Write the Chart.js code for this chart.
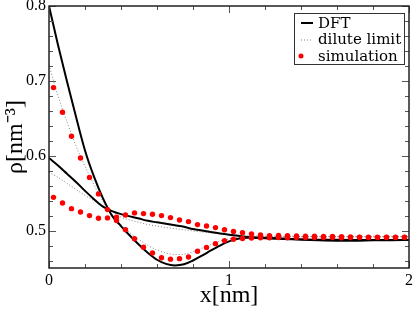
<!DOCTYPE html>
<html><head><meta charset="utf-8">
<script src="https://cdn.jsdelivr.net/npm/chart.js@4/dist/chart.umd.min.js"></script>
<style>html,body{margin:0;padding:0;background:#fff}canvas{display:block}</style>
</head><body>
<canvas id="c" width="415" height="309"></canvas>
<script>
// ---- data ----
const curveX = [0, 0.05, 0.1, 0.15, 0.2, 0.25, 0.3, 0.35, 0.4, 0.45, 0.5, 0.55, 0.6, 0.65, 0.7, 0.75, 0.8, 0.85, 0.9, 0.95, 1.0, 1.05, 1.1, 1.2, 1.3, 1.4, 1.5, 1.6, 1.7, 1.8, 1.9, 2.0];
const dftHigh = [0.8, 0.748, 0.699, 0.652, 0.607, 0.572, 0.543, 0.52, 0.506, 0.493, 0.481, 0.47, 0.461, 0.4555, 0.4535, 0.455, 0.46, 0.4665, 0.4735, 0.48, 0.4855, 0.489, 0.4905, 0.4905, 0.4895, 0.488, 0.487, 0.4865, 0.4865, 0.487, 0.4872, 0.4875];
const dftLow = [0.597, 0.587, 0.576, 0.565, 0.553, 0.542, 0.532, 0.526, 0.522, 0.519, 0.516, 0.513, 0.511, 0.509, 0.507, 0.505, 0.502, 0.5, 0.498, 0.496, 0.4945, 0.493, 0.4915, 0.4898, 0.4888, 0.4882, 0.4878, 0.4876, 0.4875, 0.4875, 0.4874, 0.4874];
const diluteHigh = [0.721, 0.68, 0.645, 0.613, 0.586, 0.561, 0.539, 0.52, 0.508, 0.497, 0.488, 0.48, 0.474, 0.47, 0.468, 0.4685, 0.4715, 0.4765, 0.4815, 0.486, 0.489, 0.4905, 0.4912, 0.4918, 0.492, 0.492, 0.492, 0.492, 0.492, 0.492, 0.492, 0.492];
const diluteLow = [0.578, 0.571, 0.563, 0.555, 0.547, 0.54, 0.533, 0.526, 0.518, 0.514, 0.511, 0.508, 0.506, 0.504, 0.5025, 0.501, 0.4995, 0.498, 0.4968, 0.4958, 0.4948, 0.494, 0.4934, 0.4927, 0.4923, 0.4921, 0.492, 0.492, 0.492, 0.492, 0.492, 0.492];
const simX = [0.025, 0.075, 0.125, 0.175, 0.225, 0.275, 0.325, 0.375, 0.425, 0.475, 0.525, 0.575, 0.625, 0.675, 0.725, 0.775, 0.825, 0.875, 0.925, 0.975, 1.025, 1.075, 1.125, 1.175, 1.225, 1.275, 1.325, 1.375, 1.425, 1.475, 1.525, 1.575, 1.625, 1.675, 1.725, 1.775, 1.825, 1.875, 1.925, 1.975];
const simHigh = [0.691, 0.658, 0.626, 0.597, 0.571, 0.549, 0.528, 0.5133, 0.501, 0.489, 0.4777, 0.4702, 0.4636, 0.4618, 0.4625, 0.4647, 0.4724, 0.4775, 0.4825, 0.4866, 0.4885, 0.4895, 0.49, 0.4903, 0.4905, 0.4906, 0.4905, 0.4907, 0.4906, 0.4907, 0.4906, 0.4907, 0.4905, 0.4906, 0.4907, 0.4906, 0.4906, 0.4907, 0.4906, 0.4907];
const simLow = [0.5444, 0.5369, 0.5293, 0.5249, 0.52, 0.5165, 0.5169, 0.5178, 0.5209, 0.5236, 0.5227, 0.5218, 0.52, 0.5173, 0.5142, 0.512, 0.508, 0.5062, 0.504, 0.501, 0.4989, 0.497, 0.4956, 0.494, 0.493, 0.4935, 0.493, 0.4928, 0.4925, 0.4925, 0.4922, 0.492, 0.4918, 0.4915, 0.4913, 0.4912, 0.4911, 0.491, 0.491, 0.491];
const xTickValues = [0, 1, 2];
const xMinorTicks = [0.2, 0.4, 0.6, 0.8, 1.2, 1.4, 1.6, 1.8];
const yTickValues = [0.5, 0.6, 0.7, 0.8];
const yMinorTicks = [0.46, 0.48, 0.52, 0.54, 0.56, 0.58, 0.62, 0.64, 0.66, 0.68, 0.72, 0.74, 0.76, 0.78];
const legendLabels = ['DFT', 'dilute limit', 'simulation'];
const xTitle = 'x[nm]';
const yTitle = 'ρ[nm⁻³]';

const pts = (xs, ys) => xs.map((x, i) => ({x: x, y: ys[i]}));

const SERIF = "'Liberation Serif', 'Times New Roman', serif";
const LEG_FONT = "15px 'DejaVu Serif', serif";

const framePlugin = {
  id: 'frame',
  afterDatasetsDraw(chart) {
    const {ctx, chartArea: a, scales: {x, y}} = chart;
    ctx.save();
    ctx.strokeStyle = '#555';
    ctx.lineWidth = 1;
    const seg = (x1, y1, x2, y2) => { ctx.beginPath(); ctx.moveTo(x1, y1); ctx.lineTo(x2, y2); ctx.stroke(); };
    const xt = (v, len) => { const p = Math.round(x.getPixelForValue(v)) + 0.5; seg(p, a.bottom, p, a.bottom - len); seg(p, a.top, p, a.top + len); };
    const yt = (v, len) => { const p = Math.round(y.getPixelForValue(v)) + 0.5; seg(a.left, p, a.left + len, p); seg(a.right, p, a.right - len, p); };
    xTickValues.forEach(v => xt(v, 7));
    xMinorTicks.forEach(v => xt(v, 4));
    yTickValues.forEach(v => yt(v, 7));
    yMinorTicks.forEach(v => yt(v, 4));
    ctx.strokeStyle = '#222';
    ctx.lineWidth = 1.5;
    ctx.strokeRect(a.left, a.top, a.right - a.left, a.bottom - a.top);
    ctx.restore();
  }
};

const legendPlugin = {
  id: 'boxLegend',
  afterDraw(chart) {
    const ctx = chart.ctx;
    const a = chart.chartArea;
    const bx = a.right - 115, by = a.top + 7, bw = 110, bh = 51;
    ctx.save();
    ctx.fillStyle = '#fff';
    ctx.fillRect(bx, by, bw, bh);
    ctx.strokeStyle = '#333';
    ctx.lineWidth = 1;
    ctx.strokeRect(bx + 0.5, by + 0.5, bw, bh);
    const rows = [by + 10, by + 26.5, by + 43];
    // DFT sample
    ctx.strokeStyle = '#000'; ctx.lineWidth = 2;
    ctx.beginPath(); ctx.moveTo(bx + 7, rows[0]); ctx.lineTo(bx + 19, rows[0]); ctx.stroke();
    // dilute sample
    ctx.strokeStyle = '#808080'; ctx.lineWidth = 1; ctx.setLineDash([1, 2]);
    ctx.beginPath(); ctx.moveTo(bx + 7, rows[1] + 0.5); ctx.lineTo(bx + 19, rows[1] + 0.5); ctx.stroke();
    ctx.setLineDash([]);
    // simulation sample
    ctx.fillStyle = '#ff0000';
    ctx.beginPath(); ctx.arc(bx + 7, rows[2], 2.5, 0, Math.PI * 2); ctx.fill();
    ctx.fillStyle = '#000';
    ctx.font = LEG_FONT;
    ctx.textBaseline = 'middle';
    ctx.textAlign = 'left';
    legendLabels.forEach((t, i) => ctx.fillText(t, bx + 24, rows[i] + 1));
    ctx.restore();
  }
};

new Chart(document.getElementById('c'), {
  type: 'scatter',
  data: {
    datasets: [
      {label: legendLabels[2], data: pts(simX, simHigh), backgroundColor: '#ff0000', borderWidth: 0, pointRadius: 2.7, showLine: false},
      {label: legendLabels[2], data: pts(simX, simLow), backgroundColor: '#ff0000', borderWidth: 0, pointRadius: 2.7, showLine: false},
      {label: legendLabels[0], data: pts(curveX, dftHigh), borderColor: '#000', borderWidth: 2, pointRadius: 0, showLine: true, cubicInterpolationMode: 'monotone'},
      {label: legendLabels[0], data: pts(curveX, dftLow), borderColor: '#000', borderWidth: 2, pointRadius: 0, showLine: true, cubicInterpolationMode: 'monotone'},
      {label: legendLabels[1], data: pts(curveX, diluteHigh), borderColor: '#808080', borderWidth: 1, borderDash: [1, 2], pointRadius: 0, showLine: true, cubicInterpolationMode: 'monotone'},
      {label: legendLabels[1], data: pts(curveX, diluteLow), borderColor: '#808080', borderWidth: 1, borderDash: [1, 2], pointRadius: 0, showLine: true, cubicInterpolationMode: 'monotone'}
    ]
  },
  options: {
    responsive: false,
    animation: false,
    devicePixelRatio: 1,
    events: [],
    layout: {padding: {top: 6, right: 6, left: 0, bottom: 0}},
    plugins: {legend: {display: false}, tooltip: {enabled: false}},
    scales: {
      x: {
        type: 'linear', min: 0, max: 2,
        grid: {display: false, drawTicks: false},
        border: {display: false},
        afterBuildTicks: s => { s.ticks = xTickValues.map(v => ({value: v})); },
        afterFit: s => { s.height = 41; s.paddingLeft = 0; s.paddingRight = 0; },
        ticks: {color: '#000', padding: 3, font: {family: SERIF, size: 16}, maxRotation: 0, autoSkip: false, callback: v => String(v)},
        title: {display: true, text: xTitle, color: '#000', font: {family: SERIF, size: 24, lineHeight: 1}, padding: {top: 0, bottom: 1}}
      },
      y: {
        type: 'linear', min: 0.45, max: 0.8,
        grid: {display: false, drawTicks: false},
        border: {display: false},
        afterBuildTicks: s => { s.ticks = yTickValues.map(v => ({value: v})); },
        afterFit: s => { s.width = 49; s.paddingTop = 0; s.paddingBottom = 0; },
        ticks: {color: '#000', padding: 3, font: {family: SERIF, size: 16}, autoSkip: false, callback: v => v.toFixed(1)},
        title: {display: true, text: yTitle, color: '#000', font: {family: SERIF, size: 24, lineHeight: 1}, padding: {top: 4, bottom: 0}}
      }
    }
  },
  plugins: [framePlugin, legendPlugin]
});
</script>
</body></html>
